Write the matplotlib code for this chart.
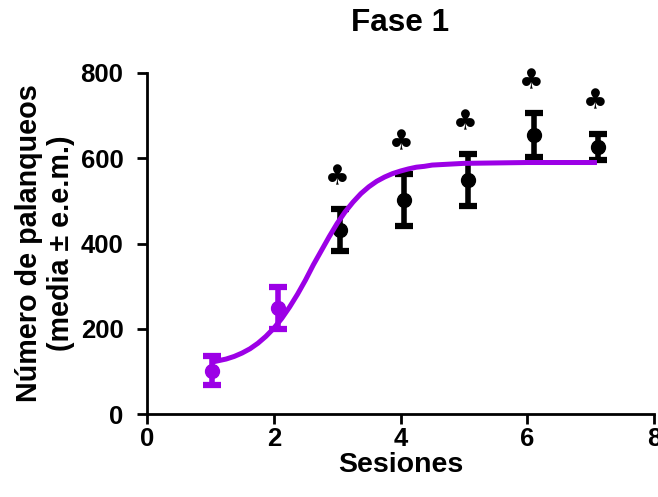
import matplotlib
matplotlib.use("Agg")
import matplotlib.pyplot as plt

plt.rcParams['font.family'] = ['Liberation Sans', 'DejaVu Sans']
plt.rcParams['font.weight'] = 'bold'

# sesiones y medias +- e.e.m.
sesiones = [1.02, 2.07, 3.04, 4.05, 5.06, 6.10, 7.11]
medias = [102, 249, 431, 502, 549, 654, 627]
eem = [33, 49, 49, 61, 60, 51, 31]
# True = diferencia significativa (trebol)
signif = [False, False, True, True, True, True, True]
n_morado = 2  # las dos primeras sesiones van en morado

# curva sigmoide ajustada
curva_x = [1.0, 1.125, 1.25, 1.375, 1.5, 1.625, 1.75, 1.875, 2.0, 2.125, 2.25,
           2.375, 2.5, 2.625, 2.75, 2.875, 3.0, 3.125, 3.25, 3.375, 3.5,
           3.625, 3.75, 3.875, 4.0, 4.125, 4.25, 4.375, 4.5, 4.75, 5.0,
           5.5, 6.0, 6.5, 7.1]
curva_y = [121, 125, 129, 135, 143, 153, 166, 182, 201, 224, 251,
           281, 314, 350, 383, 416, 447, 474, 497, 517, 533,
           546, 556, 564, 570, 575, 579, 581, 584, 586, 588,
           589, 590, 590, 590]

morado = '#9c00e6'

fig = plt.figure(figsize=(6.58, 4.97), dpi=100)
ax = fig.add_axes([147/658, 83/497, 507/658, 341/497])

# puntos negros (sesiones 3-7)
ax.errorbar(sesiones[n_morado:], medias[n_morado:], yerr=eem[n_morado:], fmt='o',
            color='black', ms=10, elinewidth=4, capsize=6.7, capthick=4.5, zorder=2)
# curva encima
ax.plot(curva_x, curva_y, color=morado, lw=3.6, zorder=3, solid_capstyle='butt',
        solid_joinstyle='round')
# puntos morados (sesiones 1-2)
ax.errorbar(sesiones[:n_morado], medias[:n_morado], yerr=eem[:n_morado], fmt='o',
            color=morado, ms=10, elinewidth=4, capsize=6.7, capthick=4.5, zorder=4)

for x, m, e, s in zip(sesiones, medias, eem, signif):
    if s:
        ax.text(x - 0.03, m + e + 75, '\u2663', fontsize=20, ha='center', va='center',
                family=['DejaVu Sans'])

ax.set_xlim(0, 8)
ax.set_ylim(0, 800)
ax.set_xticks([0, 2, 4, 6, 8])
ax.set_yticks([0, 200, 400, 600, 800])
for side in ['top', 'right']:
    ax.spines[side].set_visible(False)
for side in ['left', 'bottom']:
    ax.spines[side].set_linewidth(2)
ax.tick_params(axis='both', width=2, length=7, labelsize=18.5)
ax.tick_params(axis='y', pad=10)
ax.tick_params(axis='x', pad=2)

ax.set_xlabel('Sesiones', fontsize=20.5, fontweight='bold', labelpad=1)
ax.set_ylabel('Número de palanqueos\n(media ± e.e.m.)', fontsize=20.7,
              fontweight='bold', linespacing=1.2, labelpad=4)
ax.set_title('Fase 1', fontsize=22.7, fontweight='bold', pad=30)

fig.savefig('out.png', dpi=100)
